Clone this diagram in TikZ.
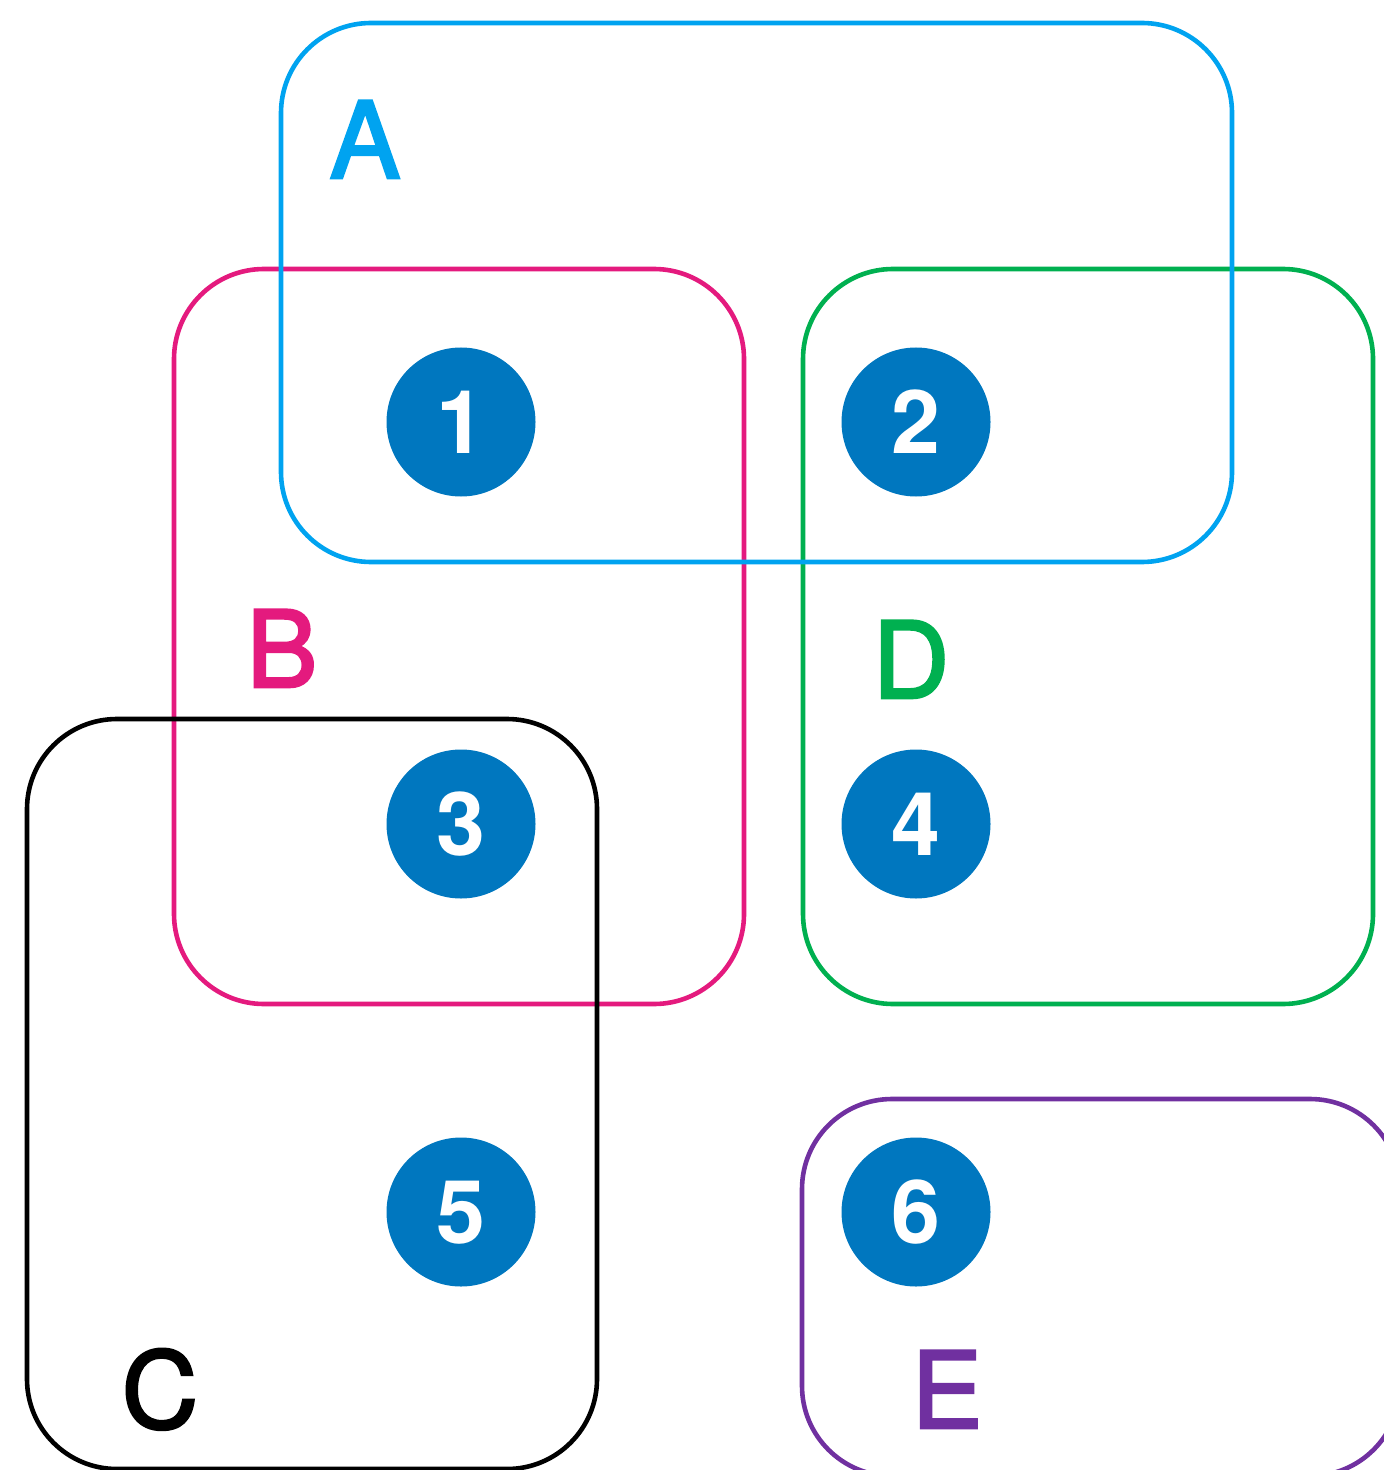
\documentclass[tikz,border=0pt]{standalone}
\usepackage{fontspec}
\setmainfont{TeX Gyre Heros}
\newcommand\heavytext[1]{\special{pdf:literal q 2 Tr 1.3 w 0 j 4 M}#1\special{pdf:literal Q}}
\definecolor{cA}{RGB}{0,163,240}
\definecolor{cB}{RGB}{228,26,126}
\definecolor{cD}{RGB}{0,176,80}
\definecolor{cE}{RGB}{112,48,160}
\definecolor{cN}{RGB}{0,119,191}
\begin{document}
\begin{tikzpicture}[x=0.5pt,y=-0.5pt,
  setbox/.style={line width=2.3pt, rounded corners=45pt},
  setlabel/.style={anchor=base, inner sep=0pt, font=\fontsize{53}{53}\selectfont},
  numcirc/.style={circle, fill=cN, minimum size=74.5pt, inner sep=0pt},
  numtxt/.style={anchor=base, inner sep=0pt, text=white, font=\fontsize{44}{44}\selectfont\bfseries}]
\useasboundingbox (0,0) rectangle (1384,1470);
% boxes
\draw[setbox, draw=cE] (802,1099) rectangle (1400,1476);
\draw[setbox, draw=cD] (803,269) rectangle (1373,1004);
\draw[setbox, draw=cB] (174,269) rectangle (744,1004);
\draw[setbox, draw=cA] (281,23) rectangle (1232,562);
\draw[setbox, draw=black] (27,719) rectangle (597,1469);
% labels
\node[setlabel, text=cA] (lA) at (365,178) {\heavytext{A}};
\node[setlabel, text=cB] (lB) at (282,687) {\heavytext{B}};
\node[setlabel, text=cD] (lD) at (911,698) {\heavytext{D}};
\node[setlabel, text=black] (lC) at (160,1428) {\heavytext{C}};
\node[setlabel, text=cE] (lE) at (947,1428) {\heavytext{E}};
% numbered circles
\foreach \n/\x/\y in {1/461/422, 2/916/422, 3/461/824, 4/916/824, 5/461/1212, 6/916/1212}{
  \node[numcirc] (n\n) at (\x,\y) {};
  \node[numtxt] (t\n) at ([yshift=-15.7pt]n\n.center) {\n};
}
\end{tikzpicture}
\end{document}
